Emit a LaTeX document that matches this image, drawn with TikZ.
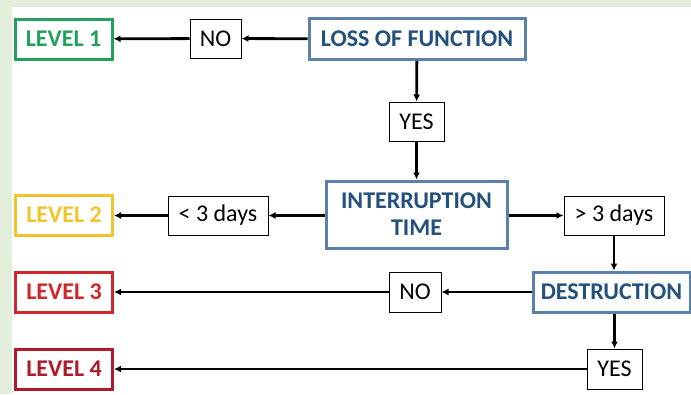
\documentclass[tikz,border=0pt]{standalone}
\usepackage{fontspec}
\setmainfont{Carlito}
\usepackage{tikz}
\usetikzlibrary{arrows.meta}
\definecolor{pagegreen}{HTML}{E3EFDA}
\definecolor{lvlgreen}{HTML}{22A05C}
\definecolor{lvlyellow}{HTML}{F2C42C}
\definecolor{lvlred}{HTML}{D2262C}
\definecolor{lvldark}{HTML}{B01A2A}
\definecolor{stepframe}{HTML}{5B80AC}
\definecolor{steptext}{HTML}{24507E}
\tikzset{
  levelbox/.style={draw=#1,text=#1,line width=3pt,inner sep=0pt,
    minimum width=97pt,minimum height=40pt,font=\fontsize{24}{26}\selectfont\bfseries},
  stepbox/.style={draw=stepframe,text=steptext,line width=3pt,inner sep=0pt,
    minimum height=41pt,align=center,font=\fontsize{24}{27}\selectfont\bfseries},
  answer/.style={draw,line width=1pt,inner sep=0pt,minimum height=39pt,
    font=\fontsize{24}{26}\selectfont},
}
\begin{document}
\begin{tikzpicture}[x=1pt,y=-1pt,>={Latex[length=7pt,width=7pt]},flow/.style={->,line width=2.8pt}]
% page background
\fill[pagegreen] (0,0) rectangle (691,394);
\fill[white] (12,7) rectangle (691,394);
\useasboundingbox (0,0) rectangle (691,394);

% levels
\node[levelbox=lvlgreen] (lvl1) at (63.5,39) {LEVEL 1};
\node[levelbox=lvlyellow] (lvl2) at (64,215) {LEVEL 2};
\node[levelbox=lvlred] (lvl3) at (64,292) {LEVEL 3};
\node[levelbox=lvldark] (lvl4) at (64,369) {LEVEL 4};

% questions
\node[stepbox,minimum width=216pt] (loss) at (417,39) {LOSS OF FUNCTION};
\node[stepbox,minimum width=181pt,minimum height=67pt] (intr) at (416.5,214.5) {INTERRUPTION\\TIME};
\node[stepbox,minimum width=157pt,minimum height=40pt] (dest) at (611.5,292) {DESTRUCTION};

% answers
\node[answer,minimum width=51pt] (no1) at (215.5,38.5) {NO};
\node[answer,minimum width=55pt] (yes1) at (416.5,121.5) {YES};
\node[answer,minimum width=100pt] (less) at (218,215.5) {< 3 days};
\node[answer,minimum width=100pt] (more) at (614,215.5) {> 3 days};
\node[answer,minimum width=52pt,minimum height=40pt] (no2) at (415,292) {NO};
\node[answer,minimum width=55pt,minimum height=40pt] (yes2) at (614.5,369) {YES};

% connectors
\draw[flow] (loss) -- (no1);
\draw[flow] (no1) -- (lvl1);
\draw[flow] (loss) -- (yes1);
\draw[flow] (yes1) -- (intr);
\draw[flow] (intr.west |- less) -- (less);
\draw[flow] (less) -- (lvl2.east |- less);
\draw[flow] (intr.east |- more) -- (more);
\draw[flow] (more) -- (more |- dest.north);
\draw[flow] (dest) -- (no2);
\draw[flow] (no2) -- (lvl3);
\draw[flow] (dest.south -| yes2) -- (yes2);
\draw[flow] (yes2) -- (lvl4);

\end{tikzpicture}
\end{document}
